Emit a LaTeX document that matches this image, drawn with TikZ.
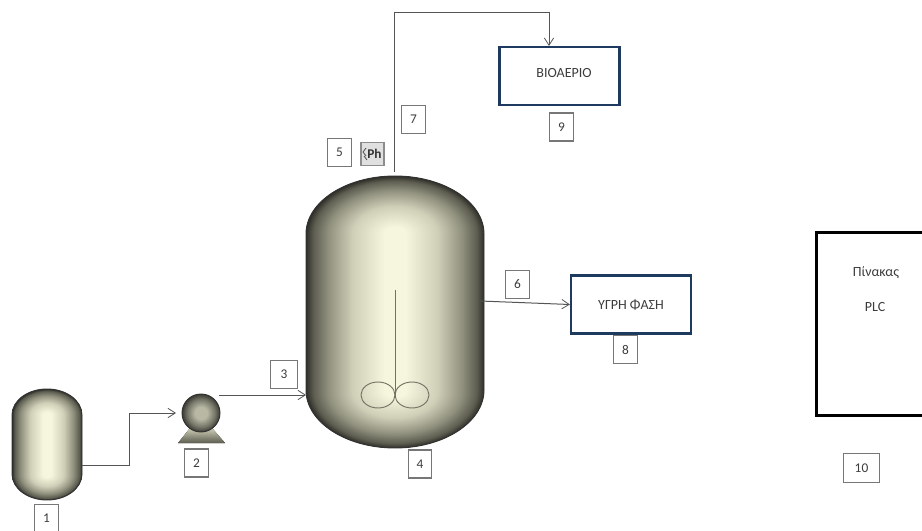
\documentclass[tikz,border=0pt]{standalone}
\usepackage{fontspec}
\setmainfont{Carlito}
\usetikzlibrary{arrows.meta}
\definecolor{vA}{HTML}{2E2E28}
\definecolor{vB}{HTML}{5C5C50}
\definecolor{vC}{HTML}{8E8E7C}
\definecolor{vD}{HTML}{CFCFB8}
\definecolor{vE}{HTML}{F6F6DF}
\definecolor{bA}{HTML}{3A3A32}
\definecolor{bB}{HTML}{77776A}
\definecolor{bC}{HTML}{B8B8A4}
\definecolor{boxblue}{HTML}{1F3A5F}
\definecolor{linegray}{HTML}{555555}
\definecolor{numgray}{HTML}{777777}
\definecolor{txt}{HTML}{3C3C3C}
\pgfdeclarehorizontalshading{vesselh}{100bp}{color(0bp)=(vA);color(25bp)=(vA);color(27bp)=(vB);color(31bp)=(vC);color(38bp)=(vD);color(47bp)=(vE);color(53bp)=(vE);color(62bp)=(vD);color(69bp)=(vC);color(73bp)=(vB);color(75bp)=(vA);color(100bp)=(vA)}
\pgfdeclareradialshading{vesselr}{\pgfpointorigin}{color(0bp)=(vE);color(3bp)=(vE);color(12bp)=(vD);color(19bp)=(vC);color(23bp)=(vB);color(25bp)=(vA);color(50bp)=(vA)}
\pgfdeclareradialshading{ballr}{\pgfpointorigin}{color(0bp)=(bC);color(8bp)=(bC);color(18bp)=(bB);color(25bp)=(bA);color(50bp)=(bA)}
\tikzset{
  x=0.75pt,y=-0.75pt,
  numbox/.style={draw=numgray,line width=0.8pt,fill=white,text=txt,font=\fontsize{10}{11}\selectfont,minimum width=17.5pt,minimum height=21pt,inner sep=0pt},
  tankbox/.style={draw=boxblue,line width=1.7pt,fill=white,minimum width=90pt,minimum height=43.5pt,inner sep=0pt},
  plcbox/.style={draw=black,line width=2.2pt,fill=white,minimum width=120pt,minimum height=137pt,inner sep=0pt},
  pipe/.style={draw=linegray,line width=0.75pt},
  pipea/.style={pipe,-{Straight Barb[length=5.5pt,width=7pt,line width=0.6pt]}},
  outline/.style={draw=black!80,line width=0.7pt},
  blade/.style={draw=vC!80!black,line width=0.7pt},
  lab/.style={text=txt,font=\fontsize{10.5}{12}\selectfont,inner sep=0pt},
}
% vessel: left, right, top, bottom, dome height
\newcommand{\vessel}[5]{%
  \pgfmathsetmacro{\cx}{(#1+#2)/2}\pgfmathsetmacro{\rx}{(#2-#1)/2}%
  \pgfmathsetmacro{\ya}{#3+#5}\pgfmathsetmacro{\yb}{#4-#5}%
  \begin{scope}\clip (#1,\ya) rectangle (#2,#3);
    \fill[shading=vesselr] (\cx,\ya) ellipse [x radius=\rx,y radius=#5];
  \end{scope}
  \begin{scope}\clip (#1,\yb) rectangle (#2,#4);
    \fill[shading=vesselr] (\cx,\yb) ellipse [x radius=\rx,y radius=#5];
  \end{scope}
  \fill[shading=vesselh] (#1,\ya) rectangle (#2,\yb);
  \draw[outline] (#1,\ya) arc[start angle=180,end angle=360,x radius=\rx,y radius=#5] -- (#2,\yb)
     arc[start angle=0,end angle=180,x radius=\rx,y radius=#5] -- cycle;
}
\begin{document}
\begin{tikzpicture}
\useasboundingbox (0,0) rectangle (922,531);
\fill[white] (0,0) rectangle (922,531);

\vessel{12}{82}{389}{500}{26}
\vessel{306}{484}{176}{448}{58}

% pump
\fill[shading=axis,bottom color=vB,top color=vD] (190,428) -- (212,428) -- (225,443) -- (178,443) -- cycle;
\fill[shading=ballr] (201,413) circle (19);
\draw[outline] (201,413) circle (19);

% agitator
\coordinate (shafttop) at (395,290);
\coordinate (shaftend) at (395,396);
\draw[blade] (shafttop) -- (shaftend);
\draw[blade] (378,395) ellipse [x radius=17,y radius=13];
\draw[blade] (412,395) ellipse [x radius=17,y radius=13];

% named points and boxes
\coordinate (v1out) at (82,465);
\coordinate (p2in) at (176,413);
\coordinate (p2out) at (219,395);
\coordinate (v4in) at (306,395);
\coordinate (v4top) at (394,172);
\coordinate (v4side) at (480,301);

\node[tankbox] (bio) at (559.5,76) {};
\node[tankbox] (liq) at (631,304.5) {};
\node[lab] (biot) at (564,73) {ΒΙΟΑΕΡΙΟ};
\node[lab] (liqt) at (631,305) {ΥΓΡΗ ΦΑΣΗ};
\node[plcbox,anchor=north west] (plc) at (815,231) {};
\node[lab] (plct1) at (876,273) {Πίνακας};
\node[lab] (plct2) at (875,307) {PLC};

\draw[pipea] (v1out) -- (129,465) |- (p2in);
\draw[pipea] (p2out) -- (v4in);
\draw[pipea] (v4side) -- (liq.west);
\coordinate (biotop) at (549,46);
\draw[pipea] (v4top) -- (394,13) -- (549,13) -- (biotop);

\node[numbox] (n1) at (46.5,518.5) {1};
\node[numbox] (n2) at (196.5,463) {2};
\node[numbox,minimum width=20pt] (n3) at (284,374.5) {3};
\node[numbox] (n4) at (420,464) {4};
\node[numbox] (n5) at (339.5,152.5) {5};
\node[numbox] (n6) at (517.5,284.5) {6};
\node[numbox] (n7) at (413.5,119.5) {7};
\node[numbox] (n8) at (625.5,349.5) {8};
\node[numbox] (n9) at (561.5,127) {9};
\node[numbox,minimum width=27pt,minimum height=22pt] (n10) at (861.5,468) {10};

\node[draw=black!45,fill=black!12,line width=1.1pt,minimum width=17.5pt,minimum height=17pt,inner sep=0pt,text=black!80,font=\bfseries\fontsize{10}{10}\selectfont] (ph) at (372.5,154) {\hspace{3pt}Ph};
\draw[black!70,line width=0.6pt] (366,148) -- (363,152) -- (366,156) (364,156) -- (367,160);
\end{tikzpicture}
\end{document}
